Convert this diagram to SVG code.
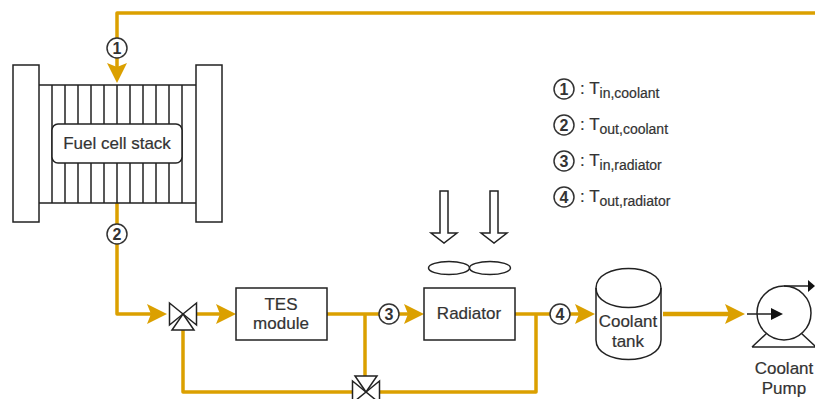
<svg xmlns="http://www.w3.org/2000/svg" width="815" height="399" viewBox="0 0 815 399">
<style>
text{font-family:"Liberation Sans",Arial,sans-serif;font-size:17px;fill:#333;text-anchor:middle;stroke:#333;stroke-width:.2}
.b{fill:#fff;stroke:#222;stroke-width:1.5}
.n{fill:none;stroke:#222;stroke-width:1.5}
.p{fill:none;stroke:#DBA000;stroke-width:3.5;stroke-linejoin:round}
.h{fill:#DBA000}
.c{fill:#fff;stroke:#333;stroke-width:1.5}
.d{font-size:16px;font-weight:bold;stroke:none}
.l{text-anchor:start;font-size:17px}
.s{font-size:14px}
</style>
<defs>
<path id="ar" class="h" d="M0 0L-20 -10L-16 0L-20 10Z"/>
<g id="valve"><path class="b" d="M-13.500 -11L13.500 11V-11L-13.500 11Z"/><path class="b" d="M0 0L11 16H-11Z"/></g>
</defs>
<g id="connectors">
<path class="p" d="M815 13H117V72"/>
<use href="#ar" transform="translate(117 83) rotate(90)"/>
<path class="p" d="M117 203V314H156"/>
<use href="#ar" transform="translate(167 314)"/>
<path class="p" d="M197 314H225"/>
<use href="#ar" transform="translate(236 314)"/>
<path class="p" d="M327 314H413"/>
<use href="#ar" transform="translate(424 314)"/>
<path class="p" d="M515 314H584"/>
<use href="#ar" transform="translate(595 314)"/>
<path class="p" d="M365 314V376"/>
<path class="p" d="M183 330V392H352M379 392H536V314"/>
<path class="p" style="stroke-width:4.500" d="M663 314H734"/>
<use href="#ar" transform="translate(745 314)"/>
</g>
<g id="stack">
<rect class="b" x="13" y="65" width="26" height="157"/>
<rect class="b" x="196" y="65" width="26" height="157"/>
<path class="n" d="M39 85H196M39 203H196M52 85V203M65 85V203M78 85V203M91 85V203M104 85V203M117 85V203M130 85V203M143 85V203M156 85V203M169 85V203M182 85V203"/>
<rect class="b" x="52" y="124" width="130" height="39" rx="6"/>
<text x="117" y="149">Fuel cell stack</text>
</g>
<g id="valve1"><use href="#valve" transform="translate(183 314)"/></g>
<g id="valve2"><use href="#valve" transform="translate(366 392) rotate(180)"/></g>
<g id="tes"><rect class="b" x="236" y="288" width="91" height="52"/>
<text x="281" y="310">TES</text><text x="281" y="329">module</text></g>
<g id="radiator"><rect class="b" x="424" y="288" width="91" height="52"/>
<text x="469" y="319">Radiator</text></g>
<g id="air">
<path class="b" d="M440 191H448V233H457L444 243L431 233H440Z"/>
<path class="b" d="M490 191H498V233H507L494 243L481 233H490Z"/>
<ellipse class="b" cx="449" cy="268" rx="20.500" ry="6.500"/>
<ellipse class="b" cx="490" cy="268" rx="20.500" ry="6.500"/>
</g>
<g id="tank"><path class="b" d="M596 288C596 262 661 262 661 288V340C661 366 596 366 596 340Z"/>
<path class="n" d="M596 288C596 314 661 314 661 288"/>
<text x="628" y="327">Coolant</text><text x="628" y="347">tank</text></g>
<g id="pump">
<path class="n" d="M752 347L767 333M816 347L801 333M752 347H816"/>
<circle class="b" cx="784" cy="313" r="27"/>
<path class="n" d="M747 314H775M784 286H808"/>
<path d="M783 314L771 308V320Z" fill="#111"/>
<path d="M815 286L808 280V292Z" fill="#111"/>
<text x="784" y="374">Coolant</text><text x="784" y="394">Pump</text></g>
<g id="m1"><circle class="c" cx="117" cy="48" r="10"/><text class="d" x="117" y="54">1</text></g>
<g id="m2"><circle class="c" cx="117" cy="234" r="10"/><text class="d" x="117" y="240">2</text></g>
<g id="m3"><circle class="c" cx="389" cy="314" r="10"/><text class="d" x="389" y="320">3</text></g>
<g id="m4"><circle class="c" cx="560" cy="314" r="10"/><text class="d" x="560" y="320">4</text></g>
<g id="legend">
<circle class="c" cx="564" cy="89" r="10"/><text class="d" x="564" y="95">1</text>
<text class="l" x="580" y="94">: T<tspan class="s" dy="4">in,coolant</tspan></text>
<circle class="c" cx="564" cy="125" r="10"/><text class="d" x="564" y="131">2</text>
<text class="l" x="580" y="130">: T<tspan class="s" dy="4">out,coolant</tspan></text>
<circle class="c" cx="564" cy="161" r="10"/><text class="d" x="564" y="167">3</text>
<text class="l" x="580" y="166">: T<tspan class="s" dy="4">in,radiator</tspan></text>
<circle class="c" cx="564" cy="197" r="10"/><text class="d" x="564" y="203">4</text>
<text class="l" x="580" y="202">: T<tspan class="s" dy="4">out,radiator</tspan></text>
</g>
</svg>
